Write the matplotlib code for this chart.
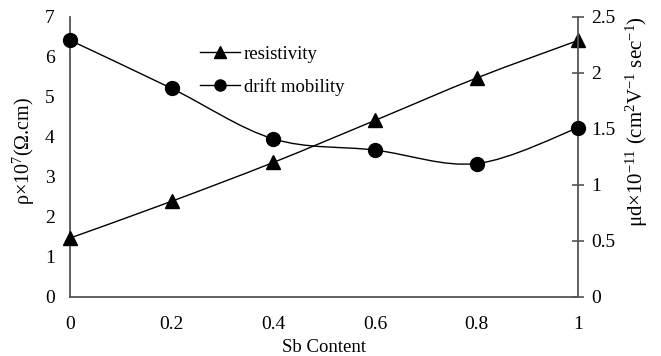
import matplotlib.pyplot as plt
from matplotlib.path import Path
from matplotlib.patches import PathPatch
from matplotlib.lines import Line2D

plt.rcParams['font.family'] = ['Liberation Serif', 'DejaVu Serif']
plt.rcParams['mathtext.fontset'] = 'custom'
plt.rcParams['mathtext.rm'] = 'Liberation Serif'
plt.rcParams['mathtext.it'] = 'Liberation Serif'

sb_content = [0, 0.2, 0.4, 0.6, 0.8, 1.0]
resistivity = [1.47, 2.39, 3.36, 4.41, 5.47, 6.41]
drift_mobility = [2.29, 1.86, 1.41, 1.31, 1.19, 1.51]


def smooth_path(x, y, t=1 / 6):
    # Excel-like smoothed line: cubic bezier segments through every point
    verts = [(x[0], y[0])]
    codes = [Path.MOVETO]
    n = len(x)
    for i in range(n - 1):
        x0, y0 = (x[i - 1], y[i - 1]) if i > 0 else (x[i], y[i])
        x3, y3 = (x[i + 2], y[i + 2]) if i + 2 < n else (x[i + 1], y[i + 1])
        c1 = (x[i] + (x[i + 1] - x0) * t, y[i] + (y[i + 1] - y0) * t)
        c2 = (x[i + 1] - (x3 - x[i]) * t, y[i + 1] - (y3 - y[i]) * t)
        verts += [c1, c2, (x[i + 1], y[i + 1])]
        codes += [Path.CURVE4] * 3
    return Path(verts, codes)


fig = plt.figure(figsize=(6.61, 3.56), dpi=100)
ax = fig.add_axes([0.106, 0.166, 0.769, 0.787])
ax2 = ax.twinx()

spine_c = '#555555'
ax.add_patch(PathPatch(smooth_path(sb_content, resistivity), fill=False, color='black', lw=1))
ax.plot(sb_content, resistivity, ls='none', marker='^', ms=10.5, color='black', clip_on=False, zorder=5)
ax2.add_patch(PathPatch(smooth_path(sb_content, drift_mobility), fill=False, color='black', lw=1))
ax2.plot(sb_content, drift_mobility, ls='none', marker='o', ms=10, color='black', clip_on=False, zorder=5)

ax.set_xlim(0, 1)
ax.set_ylim(0, 7)
ax2.set_ylim(0, 2.5)
ax.set_xticks([0, 0.2, 0.4, 0.6, 0.8, 1])
ax.set_xticklabels(['0', '0.2', '0.4', '0.6', '0.8', '1'])
ax.set_yticks(range(8))
ax2.set_yticks([0, 0.5, 1, 1.5, 2, 2.5])
ax2.set_yticklabels(['0', '0.5', '1', '1.5', '2', '2.5'])

for a in (ax, ax2):
    a.spines['top'].set_visible(False)
    for s in ('left', 'right', 'bottom'):
        a.spines[s].set_color(spine_c)
        a.spines[s].set_linewidth(1.3)
ax.spines['right'].set_visible(False)
ax2.spines['left'].set_visible(False)
ax2.spines['bottom'].set_visible(False)

ax.tick_params(axis='x', length=0, labelsize=14, pad=14)
ax.tick_params(axis='y', length=0, labelsize=14, pad=11)
ax2.tick_params(axis='y', direction='inout', length=8.5, width=1.2, color=spine_c, labelsize=14, pad=5)

ax.set_xlabel('Sb Content', fontsize=13.5, labelpad=4)
ax.set_ylabel(r'ρ×10$^7$(Ω.cm)', fontsize=14.5)
ax.yaxis.set_label_coords(-0.065, 0.52)
ax2.set_ylabel(r'μd×10$^{-11}$ (cm$^2$V$^{-1}$ sec$^{-1}$)', fontsize=15)
ax2.yaxis.set_label_coords(1.089, 0.625)

handles = [Line2D([], [], color='black', lw=1, marker='^', ms=8),
           Line2D([], [], color='black', lw=1, marker='o', ms=8)]
ax.legend(handles, ['resistivity', 'drift mobility'], loc='upper left',
          bbox_to_anchor=(0.256, 0.896), frameon=False, fontsize=13.5,
          borderpad=0, borderaxespad=0, handlelength=2.13, handletextpad=0.2,
          labelspacing=0.8)

fig.savefig('out.png', dpi=100)
